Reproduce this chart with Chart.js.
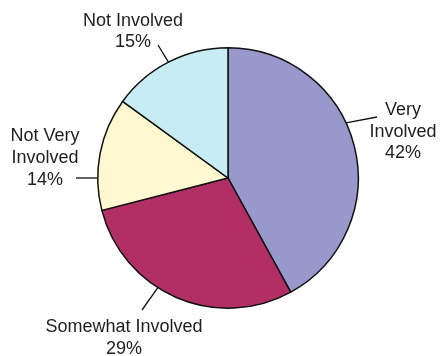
<!DOCTYPE html>
<html lang="en">
<head>
    <meta charset="UTF-8" />
    <title>Involvement</title>
    <script src="https://cdn.jsdelivr.net/npm/chart.js"></script>
    <style>
        body {
            margin: 0;
            padding: 0;
            background: #fff;
        }
        #wrap {
            width: 441px;
            height: 356px;
        }
    </style>
</head>
<body>
    <div id="wrap"><canvas id="pieChart" width="441" height="356"></canvas></div>

    <script>
        // data
        const categories = ['Very Involved', 'Somewhat Involved', 'Not Very Involved', 'Not Involved'];
        const shares = [42, 29, 14, 15];
        const sliceColors = ['#9898cc', '#b12f65', '#fff8d0', '#c8ecf3'];

        // label placement: angle (deg from top, clockwise) where the leader touches the rim,
        // leader end point, text centre and line baselines
        const labelSetup = [
            { angle: 65,    end: [377, 117], x: 403, lines: [['Very', 110], ['Involved', 132], ['42%', 153]] },
            { angle: 212.6, end: [142, 310], x: 124, lines: [['Somewhat Involved', 327], ['29%', 349]] },
            { angle: 270,   end: [76, 178],  x: 45,  lines: [['Not Very', 136], ['Involved', 158], ['14%', 180]] },
            { angle: 332.8, end: [158, 45],  x: 133, lines: [['Not Involved', 21], ['15%', 42]] }
        ];

        const calloutPlugin = {
            id: 'callouts',
            afterDraw(chart) {
                const ctx = chart.ctx;
                const arcs = chart.getDatasetMeta(0).data;
                ctx.save();
                ctx.strokeStyle = '#111';
                ctx.lineWidth = 1.3;
                ctx.fillStyle = '#1e1e1e';
                ctx.font = '18px "Liberation Sans", Arial, sans-serif';
                ctx.textAlign = 'center';
                ctx.textBaseline = 'middle';
                labelSetup.forEach((lab, i) => {
                    const arc = arcs[i];
                    const a = lab.angle * Math.PI / 180;
                    const sx = arc.x + arc.outerRadius * Math.sin(a);
                    const sy = arc.y - arc.outerRadius * Math.cos(a);
                    ctx.beginPath();
                    ctx.moveTo(sx, sy);
                    ctx.lineTo(lab.end[0], lab.end[1]);
                    ctx.stroke();
                    lab.lines.forEach(([txt, y]) => ctx.fillText(txt, lab.x, y));
                });
                ctx.restore();
            }
        };

        new Chart(document.getElementById('pieChart').getContext('2d'), {
            type: 'pie',
            data: {
                labels: categories,
                datasets: [{
                    data: shares,
                    backgroundColor: sliceColors,
                    borderColor: '#111',
                    borderWidth: 1.5,
                    borderJoinStyle: 'miter'
                }]
            },
            options: {
                responsive: false,
                animation: false,
                layout: { padding: { top: 47, bottom: 47, left: 97, right: 82 } },
                plugins: {
                    legend: { display: false },
                    tooltip: { enabled: false }
                }
            },
            plugins: [calloutPlugin]
        });
    </script>
</body>
</html>
